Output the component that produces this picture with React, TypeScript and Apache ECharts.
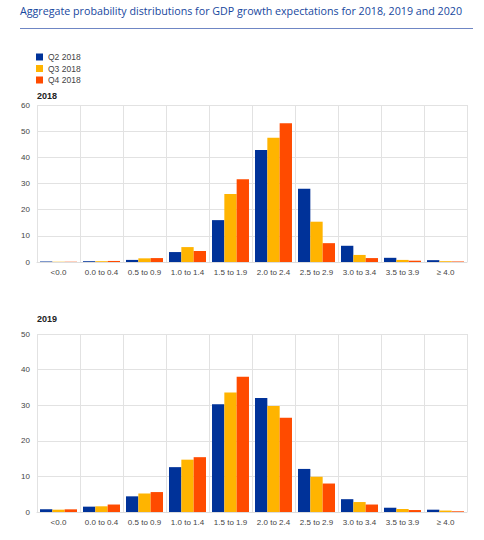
import React, { useEffect, useRef } from "react";
import * as echarts from "echarts";

const categories = ["<0.0", "0.0 to 0.4", "0.5 to 0.9", "1.0 to 1.4", "1.5 to 1.9", "2.0 to 2.4", "2.5 to 2.9", "3.0 to 3.4", "3.5 to 3.9", "≥ 4.0"];
const seriesNames = ["Q2 2018", "Q3 2018", "Q4 2018"];
const colors = ["#003299", "#FFB400", "#FF4B00"];

const y2018Q2 = [0.2, 0.3, 0.8, 3.8, 16.0, 42.8, 28.0, 6.2, 1.6, 0.7];
const y2018Q3 = [0.1, 0.3, 1.4, 5.7, 26.0, 47.5, 15.4, 2.7, 0.8, 0.3];
const y2018Q4 = [0.1, 0.4, 1.5, 4.2, 31.6, 53.0, 7.2, 1.5, 0.5, 0.2];

const y2019Q2 = [0.8, 1.5, 4.4, 12.6, 30.3, 32.0, 12.1, 3.6, 1.2, 0.65];
const y2019Q3 = [0.65, 1.6, 5.2, 14.7, 33.6, 29.8, 9.9, 2.8, 0.85, 0.4];
const y2019Q4 = [0.75, 2.1, 5.6, 15.4, 38.0, 26.5, 8.0, 2.1, 0.55, 0.2];

const panelTitles = ["2018", "2019"];
const yMax = [60, 50];

const title = "Aggregate probability distributions for GDP growth expectations for 2018, 2019 and 2020";

export default function App() {
  const ref = useRef<HTMLDivElement>(null);
  useEffect(() => {
    if (!ref.current) return;
    const chart = echarts.init(ref.current, undefined, { renderer: "svg" });
    const data = [
      [y2018Q2, y2018Q3, y2018Q4],
      [y2019Q2, y2019Q3, y2019Q4],
    ];
    const grids = [
      { left: 37, right: 17, top: 105, height: 157 },
      { left: 37, right: 17, top: 334, height: 178 },
    ];
    const axisFont = { color: "#444", fontSize: 8, fontFamily: "Liberation Sans, Arial, sans-serif" };
    const series: any[] = [];
    data.forEach((panel, gi) => {
      panel.forEach((vals, si) => {
        series.push({
          name: seriesNames[si],
          type: "bar",
          xAxisIndex: gi,
          yAxisIndex: gi,
          data: vals,
          barGap: "0%",
          barCategoryGap: "14%",
          itemStyle: { color: colors[si] },
        });
      });
    });
    chart.setOption({
      animation: false,
      grid: grids,
      legend: {
        orient: "vertical",
        left: 36,
        top: 52,
        itemWidth: 7,
        itemHeight: 7,
        itemGap: 1.5,
        padding: 0,
        icon: "rect",
        data: seriesNames,
        textStyle: { ...axisFont, fontSize: 8.5, lineHeight: 10 },
      },
      xAxis: [0, 1].map((gi) => ({
        type: "category",
        gridIndex: gi,
        data: categories,
        axisLine: { show: true, lineStyle: { color: "#ddd" } },
        axisTick: { show: false },
        splitLine: { show: true, lineStyle: { color: "#e2e2e2" } },
        axisLabel: { ...axisFont, margin: 6, interval: 0 },
      })),
      yAxis: [0, 1].map((gi) => ({
        type: "value",
        gridIndex: gi,
        min: 0,
        max: yMax[gi],
        interval: 10,
        axisLine: { show: false },
        axisTick: { show: false },
        splitLine: { show: true, lineStyle: { color: "#e2e2e2" } },
        axisLabel: { ...axisFont, margin: 7 },
      })),
      series,
      graphic: [
        {
          type: "text",
          left: 20,
          top: 5,
          style: { text: title, fill: "#17479E", fontSize: 10.7, fontFamily: "Open Sans, sans-serif" },
        },
        {
          type: "line",
          shape: { x1: 20, y1: 28.5, x2: 473, y2: 28.5 },
          style: { stroke: "#6f86c4", lineWidth: 1 },
        },
        {
          type: "text",
          left: 37,
          top: 91,
          style: { text: panelTitles[0], fill: "#222", fontSize: 9, fontWeight: "bold", fontFamily: "Liberation Sans, Arial, sans-serif" },
        },
        {
          type: "text",
          left: 37,
          top: 314,
          style: { text: panelTitles[1], fill: "#222", fontSize: 9, fontWeight: "bold", fontFamily: "Liberation Sans, Arial, sans-serif" },
        },
      ],
    });
    return () => chart.dispose();
  }, []);
  return <div ref={ref} style={{ position: "absolute", left: 0, top: 0, width: 484, height: 540, background: "#fff" }} />;
}
